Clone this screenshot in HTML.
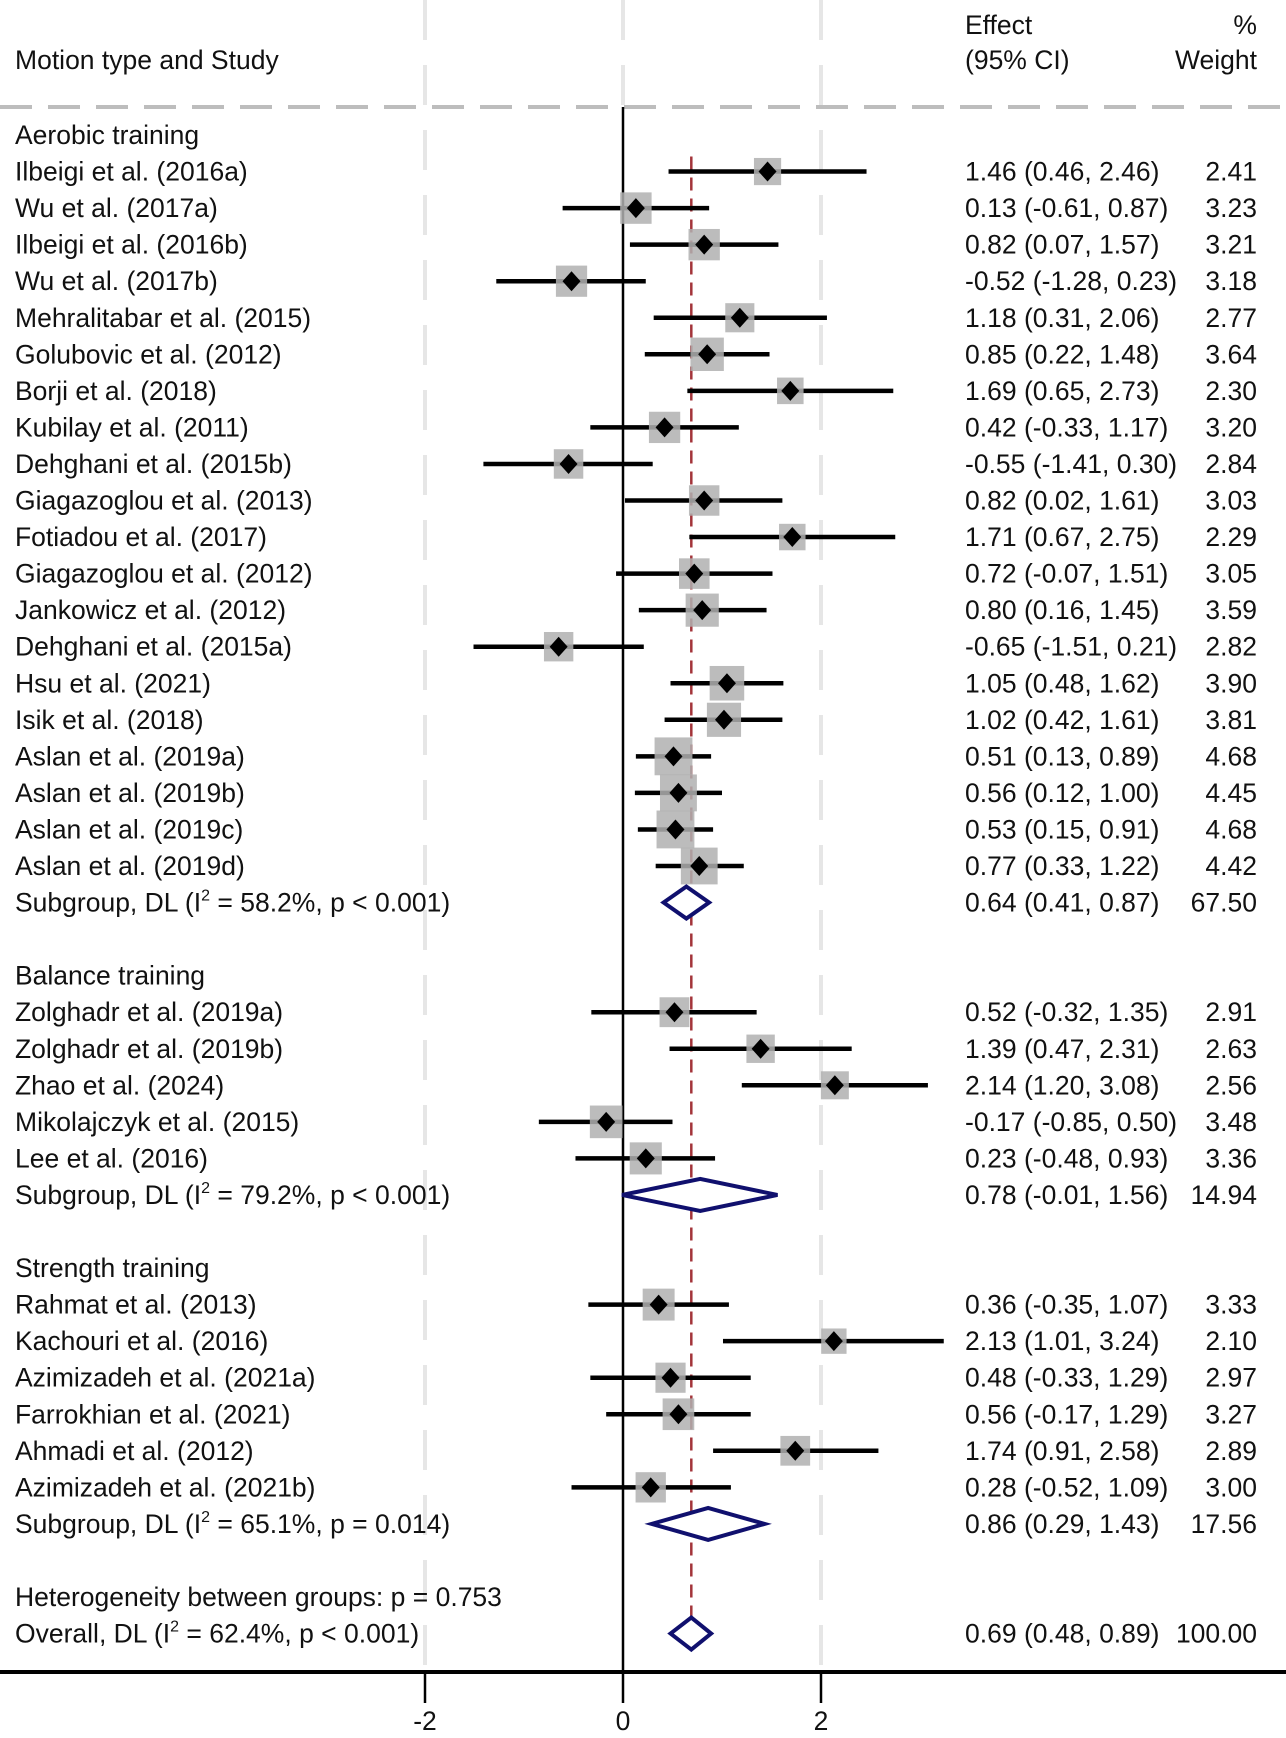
<!DOCTYPE html>
<html><head><meta charset="utf-8"><style>
html,body{margin:0;padding:0;background:#fff;}
svg text{font-family:"Liberation Sans",Arial,sans-serif;font-size:26.5px;fill:#111;}
</style></head><body>
<svg id="chart" width="1286" height="1733" viewBox="0 0 1286 1733" xmlns="http://www.w3.org/2000/svg"></svg>
<script>
const labels=["Aerobic training","Ilbeigi et al. (2016a)","Wu et al. (2017a)","Ilbeigi et al. (2016b)","Wu et al. (2017b)","Mehralitabar et al. (2015)","Golubovic et al. (2012)","Borji et al. (2018)","Kubilay et al. (2011)","Dehghani et al. (2015b)","Giagazoglou et al. (2013)","Fotiadou et al. (2017)","Giagazoglou et al. (2012)","Jankowicz et al. (2012)","Dehghani et al. (2015a)","Hsu et al. (2021)","Isik et al. (2018)","Aslan et al. (2019a)","Aslan et al. (2019b)","Aslan et al. (2019c)","Aslan et al. (2019d)","Subgroup, DL (I²  = 58.2%, p < 0.001)","","Balance training","Zolghadr et al. (2019a)","Zolghadr et al. (2019b)","Zhao et al. (2024)","Mikolajczyk et al. (2015)","Lee et al. (2016)","Subgroup, DL (I²  = 79.2%, p < 0.001)","","Strength training","Rahmat et al. (2013)","Kachouri et al. (2016)","Azimizadeh et al. (2021a)","Farrokhian et al. (2021)","Ahmadi et al. (2012)","Azimizadeh et al. (2021b)","Subgroup, DL (I²  = 65.1%, p = 0.014)","","Heterogeneity between groups: p = 0.753","Overall, DL (I²  = 62.4%, p < 0.001)"];
const types=["h","s","s","s","s","s","s","s","s","s","s","s","s","s","s","s","s","s","s","s","s","d","b","h","s","s","s","s","s","d","b","h","s","s","s","s","s","s","d","b","h","d"];
const est=[null,1.46,0.13,0.82,-0.52,1.18,0.85,1.69,0.42,-0.55,0.82,1.71,0.72,0.80,-0.65,1.05,1.02,0.51,0.56,0.53,0.77,0.64,null,null,0.52,1.39,2.14,-0.17,0.23,0.78,null,null,0.36,2.13,0.48,0.56,1.74,0.28,0.86,null,null,0.69];
const lo=[null,0.46,-0.61,0.07,-1.28,0.31,0.22,0.65,-0.33,-1.41,0.02,0.67,-0.07,0.16,-1.51,0.48,0.42,0.13,0.12,0.15,0.33,0.41,null,null,-0.32,0.47,1.20,-0.85,-0.48,-0.01,null,null,-0.35,1.01,-0.33,-0.17,0.91,-0.52,0.29,null,null,0.48];
const hi=[null,2.46,0.87,1.57,0.23,2.06,1.48,2.73,1.17,0.30,1.61,2.75,1.51,1.45,0.21,1.62,1.61,0.89,1.00,0.91,1.22,0.87,null,null,1.35,2.31,3.08,0.50,0.93,1.56,null,null,1.07,3.24,1.29,1.29,2.58,1.09,1.43,null,null,0.89];
const weights=[null,2.41,3.23,3.21,3.18,2.77,3.64,2.30,3.20,2.84,3.03,2.29,3.05,3.59,2.82,3.90,3.81,4.68,4.45,4.68,4.42,67.50,null,null,2.91,2.63,2.56,3.48,3.36,14.94,null,null,3.33,2.10,2.97,3.27,2.89,3.00,17.56,null,null,100.00];
const ticks=[-2,0,2];
const overall=0.69;

const svg=document.getElementById('chart');
const NS='http://www.w3.org/2000/svg';
const X=v=>623+v*99;
const Y=i=>135+i*36.55;
function mk(tag,at,parent){const e=document.createElementNS(NS,tag);for(const k in at)e.setAttribute(k,at[k]);(parent||svg).appendChild(e);return e;}
function fmt(v){return v.toFixed(2);}

ticks.forEach(t=>{if(t!==0){const g=mk('line',{x1:X(t),x2:X(t),y1:0,y2:1672,stroke:'#e6e6e6','stroke-width':4,'stroke-dasharray':'40 25'});

}});
let gz=mk('line',{x1:X(0),x2:X(0),y1:0,y2:107,stroke:'#e6e6e6','stroke-width':4,'stroke-dasharray':'40 25'});


const hdr=[["Motion type and Study",15,69,"start"],["Effect",965,34,"start"],["(95% CI)",965,69,"start"],["%",1257,34,"end"],["Weight",1257,69,"end"]];
hdr.forEach(h=>{const t=mk('text',{x:h[1],y:h[2],'text-anchor':h[3]});t.textContent=h[0];

});
let dl=mk('line',{x1:0,x2:1286,y1:107,y2:107,stroke:'#bdbdbd','stroke-width':4,'stroke-dasharray':'32 16'});


let zl=mk('line',{x1:X(0),x2:X(0),y1:107,y2:1672,stroke:'#000','stroke-width':2.5});


let ol=mk('line',{x1:X(overall),x2:X(overall),y1:Y(1)-15,y2:Y(41),stroke:'#a3343a','stroke-width':2.5,'stroke-dasharray':'13 8'});



labels.forEach((lab,i)=>{
  const y=Y(i);
  if(lab){const t=mk('text',{x:15,y:y+9});
    if(lab.includes('I²')){const p=lab.split('I²');t.textContent=p[0]+'I';const s=mk('tspan',{dy:-11,'font-size':16},t);s.textContent='2';const r=mk('tspan',{dy:11},t);r.textContent=p[1];}
    else t.textContent=lab;
    
    }
  if(est[i]==null)return;
  if(types[i]==='s'){
    const ci=mk('line',{x1:X(lo[i]),x2:X(hi[i]),y1:y,y2:y,stroke:'#000','stroke-width':4.5});
    
    
    const s=17.5*Math.sqrt(weights[i]);
    const b=mk('rect',{x:X(est[i])-s/2,y:y-s/2,width:s,height:s,fill:'#b0b0b0','fill-opacity':0.85});
    
    
    const d=mk('polygon',{points:`${X(est[i])-9},${y} ${X(est[i])},${y-10} ${X(est[i])+9},${y} ${X(est[i])},${y+10}`,fill:'#000'});
    
    
  } else {
    const d=mk('polygon',{points:`${X(lo[i])},${y} ${X(est[i])},${y-16} ${X(hi[i])},${y} ${X(est[i])},${y+16}`,fill:'#fff',stroke:'#10106e','stroke-width':4,'stroke-linejoin':'miter'});
    
    
  }
  const e=mk('text',{x:965,y:y+9});e.textContent=`${fmt(est[i])} (${fmt(lo[i])}, ${fmt(hi[i])})`;
  
  
  const w=mk('text',{x:1257,y:y+9,'text-anchor':'end'});w.textContent=fmt(weights[i]);
  
  
});
let ax=mk('line',{x1:0,x2:1286,y1:1672,y2:1672,stroke:'#000','stroke-width':4});


ticks.forEach(t=>{const l=mk('line',{x1:X(t),x2:X(t),y1:1672,y2:1703,stroke:'#000','stroke-width':2.5});


const tx=mk('text',{x:X(t),y:1730,'text-anchor':'middle'});tx.textContent=t;

});
</script>
</body></html>
